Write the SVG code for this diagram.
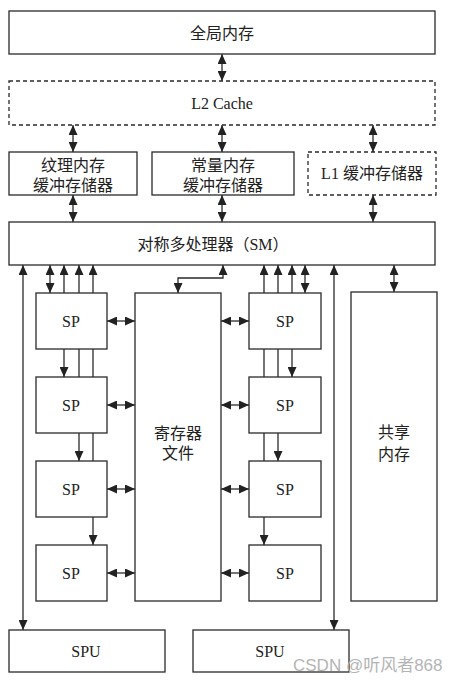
<svg xmlns="http://www.w3.org/2000/svg" width="459" height="684" viewBox="0 0 459 684">
<style>
.box{fill:#fff;stroke:#2a2a2a;stroke-width:1.3}
.dash{stroke-dasharray:4 3}
.t{font-family:"Liberation Serif","Noto Sans CJK SC",serif;font-size:16px;fill:#222;text-anchor:middle;dominant-baseline:central}
.c{fill:none;stroke:#2a2a2a;stroke-width:1.3}
.wm{font-family:"Liberation Sans","Noto Sans CJK SC",sans-serif;font-size:17px;fill:#b4b4b4;dominant-baseline:central}
</style>
<defs>
<marker id="ah" viewBox="0 0 10 9" markerWidth="10" markerHeight="9" markerUnits="userSpaceOnUse" refX="10" refY="4.5" orient="auto-start-reverse">
<path d="M0,0 L10,4.5 L0,9 z" fill="#222"/>
</marker>
</defs>
<g id="connectors" class="c" marker-start="url(#ah)" marker-end="url(#ah)">
<path d="M222,54 V81"/>
<path d="M73,125 V152"/>
<path d="M222,125 V152"/>
<path d="M373,125 V152"/>
<path d="M73,195 V222"/>
<path d="M222,195 V222"/>
<path d="M373,195 V222"/>
<path d="M23,265 V630"/>
<path d="M50,265 V293"/>
<path d="M64,265 V377"/>
<path d="M79,265 V461"/>
<path d="M93,265 V545"/>
<path d="M223,265 V278 H178 V293"/>
<path d="M305,265 V293"/>
<path d="M292,265 V377"/>
<path d="M278,265 V461"/>
<path d="M264,265 V545"/>
<path d="M334,265 V630"/>
<path d="M394,265 V292"/>
<path d="M107,321 H135"/>
<path d="M107,405 H135"/>
<path d="M107,489 H135"/>
<path d="M107,573 H135"/>
<path d="M221,321 H249"/>
<path d="M221,405 H249"/>
<path d="M221,489 H249"/>
<path d="M221,573 H249"/>
</g>
<g id="global"><rect class="box" x="9" y="11" width="426" height="43"/><text class="t" x="222" y="33">全局内存</text></g>
<g id="l2"><rect class="box dash" x="9" y="81" width="426" height="44"/><text class="t" x="222" y="103">L2 Cache</text></g>
<g id="texture"><rect class="box" x="9" y="152" width="128" height="43"/><text class="t" x="73" y="165">纹理内存</text><text class="t" x="73" y="185">缓冲存储器</text></g>
<g id="const"><rect class="box" x="152" y="152" width="142" height="43"/><text class="t" x="223" y="165">常量内存</text><text class="t" x="223" y="185">缓冲存储器</text></g>
<g id="l1"><rect class="box dash" x="308" y="152" width="128" height="43"/><text class="t" x="372" y="173">L1 缓冲存储器</text></g>
<g id="sm"><rect class="box" x="9" y="222" width="426" height="43"/><text class="t" x="213" y="244">对称多处理器（SM）</text></g>
<g id="spL1"><rect class="box" x="36" y="293" width="71" height="56"/><text class="t" x="71" y="321">SP</text></g>
<g id="spL2"><rect class="box" x="36" y="377" width="71" height="56"/><text class="t" x="71" y="405">SP</text></g>
<g id="spL3"><rect class="box" x="36" y="461" width="71" height="56"/><text class="t" x="71" y="489">SP</text></g>
<g id="spL4"><rect class="box" x="36" y="545" width="71" height="56"/><text class="t" x="71" y="573">SP</text></g>
<g id="regfile"><rect class="box" x="135" y="293" width="86" height="308"/><text class="t" x="178" y="433">寄存器</text><text class="t" x="178" y="453">文件</text></g>
<g id="spR1"><rect class="box" x="249" y="293" width="72" height="56"/><text class="t" x="285" y="321">SP</text></g>
<g id="spR2"><rect class="box" x="249" y="377" width="72" height="56"/><text class="t" x="285" y="405">SP</text></g>
<g id="spR3"><rect class="box" x="249" y="461" width="72" height="56"/><text class="t" x="285" y="489">SP</text></g>
<g id="spR4"><rect class="box" x="249" y="545" width="72" height="56"/><text class="t" x="285" y="573">SP</text></g>
<g id="shared"><rect class="box" x="351" y="292" width="86" height="309"/><text class="t" x="394" y="432">共享</text><text class="t" x="394" y="454">内存</text></g>
<g id="spu1"><rect class="box" x="9" y="630" width="156" height="42"/><text class="t" x="86" y="651">SPU</text></g>
<g id="spu2"><rect class="box" x="193" y="630" width="156" height="42"/><text class="t" x="270" y="651">SPU</text></g>
<text class="wm" x="293" y="665">CSDN @听风者868</text>
</svg>
